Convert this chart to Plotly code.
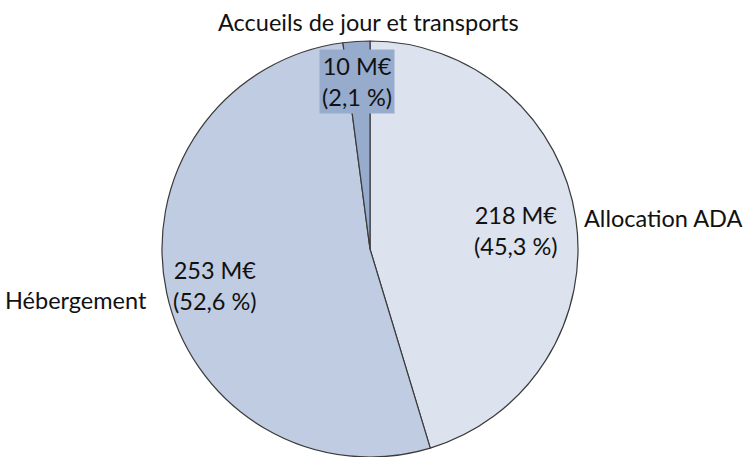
import plotly.graph_objects as go

categories = ["Allocation ADA", "Hébergement", "Accueils de jour et transports"]
values_meur = [218, 253, 10]
shares_pct = ["45,3", "52,6", "2,1"]
colors = ["#dce3ee", "#c0cce1", "#97abcd"]

W, H = 744, 457
MT = 41

fig = go.Figure(go.Pie(
    labels=categories,
    values=values_meur,
    sort=False,
    direction="clockwise",
    rotation=0,
    marker=dict(colors=colors, line=dict(color="#3a3a3a", width=1.2)),
    textinfo="none",
    hoverinfo="label+value+percent",
    showlegend=False,
    domain=dict(x=[(370 - 230) / W, (370 + 230) / W], y=[0, 1]),
))

FONT = "Lato"
FS = 23.5
value_texts = [f"{v} M€<br>({s} %)" for v, s in zip(values_meur, shares_pct)]


def px(x, y):
    return x / W, (H - y) / (H - MT)


def note(text, x, y, xanchor="center", **kw):
    xp, yp = px(x, y)
    fig.add_annotation(x=xp, y=yp, xref="paper", yref="paper", text=text, showarrow=False,
                       xanchor=xanchor, yanchor="middle", align="center",
                       font=dict(family=FONT, size=FS, color="#111"), **kw)


note(value_texts[0], 516, 230)
note(value_texts[1], 215, 285)
note(value_texts[2], 357, 81, bgcolor=colors[2], borderpad=2)
note(categories[0], 582, 218, xanchor="left")
note(categories[1], 149, 300, xanchor="right")
note(categories[2], 368, 22)

fig.update_layout(
    width=W, height=H,
    margin=dict(l=0, r=0, t=MT, b=0),
    paper_bgcolor="white", plot_bgcolor="rgba(0,0,0,0)",
)
fig.write_html("out.html", config={"displayModeBar": False},
               post_script="document.body.style.margin='0';")
